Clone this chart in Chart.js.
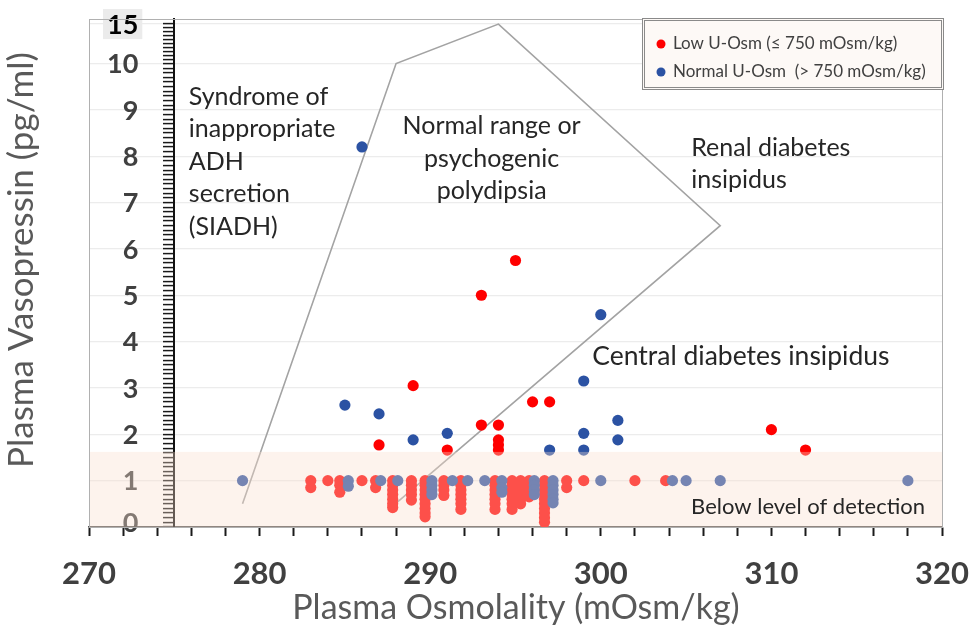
<!DOCTYPE html>
<html>
<head>
<meta charset="utf-8">
<script src="https://cdn.jsdelivr.net/npm/chart.js@4.4.1/dist/chart.umd.min.js"></script>
<style>
html, body { margin: 0; padding: 0; background: #fff; }
#wrap { position: relative; width: 976px; height: 628px; }
</style>
</head>
<body>
<div id="wrap"><canvas id="chart-scatter"></canvas></div>
<script>
'use strict';

// Data
var lowSingleX = [295, 293, 289, 296, 297, 293, 294, 294, 294, 294, 287, 291, 310, 312, 284, 286, 299, 302, 303.8];
var lowSingleY = [5.75, 5.0, 3.05, 2.7, 2.7, 2.2, 2.2, 1.88, 1.77, 1.66, 1.77, 1.66, 2.1, 1.66, 1, 1, 1, 1, 1];
var lowStackX = [283, 284.7, 286.8, 287.8, 288.9, 289.7, 290.8, 291.8, 293.8, 294.8, 295.3, 295.8, 296.7, 298];
var lowStackY = [
	[1, 0.85],
	[1, 0.9, 0.75],
	[1, 0.85],
	[1, 0.9, 0.8, 0.7, 0.6, 0.5, 0.42],
	[1, 0.9, 0.8, 0.7, 0.58],
	[1, 0.9, 0.8, 0.7, 0.6, 0.5, 0.4, 0.3, 0.22],
	[1, 0.9, 0.8, 0.68],
	[1, 0.9, 0.8, 0.7, 0.6, 0.5, 0.38],
	[1, 0.9, 0.8, 0.7, 0.6, 0.5, 0.38],
	[1, 0.9, 0.8, 0.7, 0.6, 0.5, 0.38],
	[1, 0.9, 0.8, 0.7, 0.6, 0.5],
	[1, 0.9, 0.8, 0.65],
	[1, 0.9, 0.8, 0.7, 0.6, 0.5, 0.4, 0.3, 0.2, 0.1],
	[1, 0.85]
];
var normalSingleX = [286, 300, 299, 285, 287, 301, 291, 299, 289, 301, 297, 299, 279, 287.1, 288.1, 291.3, 292.2, 293.2, 300, 304.2, 305, 307, 318];
var normalSingleY = [8.2, 4.58, 3.15, 2.63, 2.44, 2.3, 2.02, 2.02, 1.88, 1.88, 1.66, 1.66, 1, 1, 1, 1, 1, 1, 1, 1, 1, 1, 1];
var normalStackX = [285.2, 290.1, 294.2, 296.1, 297.2];
var normalStackY = [
	[1, 0.88],
	[1, 0.9, 0.8, 0.7],
	[1, 0.85, 0.75],
	[1, 0.9, 0.8, 0.7],
	[1, 0.9, 0.8, 0.7, 0.6, 0.52]
];
var boundaryX = [279, 288, 294, 307, 287.8];
var boundaryY = [0.5, 10, 15, 6.5, 0.45];
var xTickLabels = [270, 280, 290, 300, 310, 320];
var yTickValues = [0, 1, 2, 3, 4, 5, 6, 7, 8, 9, 10, 15];
var seriesLabels = ['Low U-Osm (\u2264 750 mOsm/kg)', 'Normal U-Osm  (> 750 mOsm/kg)'];
var detectionLimit = 1.62;

// broken y axis: everything above 10 is squeezed
var BREAK = 10, UPPER = 0.17;
function toAxis(v) {
	return v <= BREAK ? v : BREAK + (v - BREAK) * UPPER;
}

function buildPoints(singleX, singleY, stackX, stackY) {
	var pts = [];
	singleX.forEach(function (x, i) { pts.push({ x: x, y: toAxis(singleY[i]) }); });
	stackX.forEach(function (x, i) {
		stackY[i].forEach(function (y) { pts.push({ x: x, y: toAxis(y) }); });
	});
	return pts;
}

var FONT = 'Lato, "Open Sans", sans-serif';
var RED = '#ff0000';
var BLUE = '#2b52a3';

function isMajorY(v) {
	return yTickValues.some(function (t) { return Math.abs(toAxis(t) - v) < 1e-6; });
}

var notes = {
	id: 'notes',
	beforeDatasetsDraw: function (chart) {
		// y tick labels, left of the crossing axis
		var ctx = chart.ctx, sx = chart.scales.x, sy = chart.scales.y;
		var ax = sx.getPixelForValue(275) - 36;
		ctx.save();
		ctx.font = 'bold 27px ' + FONT;
		ctx.textAlign = 'right';
		ctx.textBaseline = 'middle';
		yTickValues.forEach(function (v) {
			var py = sy.getPixelForValue(toAxis(v));
			var t = String(v);
			if (v === 15) {
				var w = ctx.measureText(t).width;
				ctx.fillStyle = '#ebebeb';
				ctx.fillRect(ax - w - 4, py - 15, w + 8, 30);
				ctx.fillStyle = '#000000';
			} else {
				ctx.fillStyle = '#404040';
			}
			ctx.fillText(t, ax, v === 0 ? py - 4 : py + 1);
		});
		ctx.restore();
	},
	afterDatasetsDraw: function (chart) {
		var ctx = chart.ctx, a = chart.chartArea, y = chart.scales.y;
		var top = y.getPixelForValue(detectionLimit);
		var bottom = y.getPixelForValue(0);
		ctx.save();
		ctx.fillStyle = 'rgba(250, 222, 205, 0.36)';
		ctx.fillRect(a.left, top, a.right - a.left, bottom - top);
		ctx.restore();
	},
	afterDraw: function (chart) {
		var ctx = chart.ctx, a = chart.chartArea;
		var sx = chart.scales.x, sy = chart.scales.y;
		ctx.save();
		// frame
		ctx.strokeStyle = '#b0b0b0';
		ctx.lineWidth = 1;
		ctx.strokeRect(a.left + 0.5, a.top + 0.5, a.right - a.left, a.bottom - a.top);

		// x tick labels + title
		ctx.fillStyle = '#404040';
		ctx.font = 'bold 31px ' + FONT;
		ctx.textAlign = 'center';
		ctx.textBaseline = 'middle';
		xTickLabels.forEach(function (v) {
			ctx.fillText(String(v), sx.getPixelForValue(v), a.bottom + 47);
		});
		ctx.fillStyle = '#595959';
		ctx.font = '34px ' + FONT;
		ctx.fillText('Plasma Osmolality (mOsm/kg)', 516, a.bottom + 81);

		// y title
		ctx.save();
		ctx.translate(22, 260);
		ctx.rotate(-Math.PI / 2);
		ctx.fillStyle = '#595959';
		ctx.font = '35px ' + FONT;
		ctx.textAlign = 'center';
		ctx.textBaseline = 'middle';
		ctx.fillText('Plasma Vasopressin (pg/ml)', 0, 0);
		ctx.restore();

		// region notes
		ctx.fillStyle = '#262626';
		ctx.font = '25px ' + FONT;
		ctx.textBaseline = 'middle';
		function lines(arr, x, yv, align) {
			ctx.textAlign = align;
			var px = sx.getPixelForValue(x), py = sy.getPixelForValue(yv);
			arr.forEach(function (t, i) { ctx.fillText(t, px, py + i * 32.5); });
		}
		lines(['Syndrome of', 'inappropriate', 'ADH', 'secretion', '(SIADH)'], 275.85, 9.28, 'left');
		lines(['Normal range or', 'psychogenic', 'polydipsia'], 293.6, 8.65, 'center');
		lines(['Renal diabetes', 'insipidus'], 305.3, 8.18, 'left');
		ctx.font = '26.5px ' + FONT;
		lines(['Central diabetes insipidus'], 299.5, 3.69, 'left');
		ctx.font = '22px ' + FONT;
		lines(['Below level of detection'], 319.0, 0.43, 'right');

		// legend box
		var lx = 642, ly = 18, lw = 301, lh = 71;
		ctx.fillStyle = '#fdf9f6';
		ctx.fillRect(lx, ly, lw, lh);
		ctx.strokeStyle = '#8a8a8a';
		ctx.lineWidth = 1;
		ctx.strokeRect(lx + 0.5, ly + 0.5, lw, lh);
		ctx.strokeRect(lx + 2.5, ly + 2.5, lw - 4, lh - 4);
		var colors = [RED, BLUE];
		ctx.font = '17px ' + FONT;
		ctx.textAlign = 'left';
		seriesLabels.forEach(function (t, i) {
			var cy = ly + 26 + i * 28;
			ctx.fillStyle = colors[i];
			ctx.beginPath();
			ctx.arc(lx + 19, cy, 4.5, 0, Math.PI * 2);
			ctx.fill();
			ctx.fillStyle = '#404040';
			ctx.fillText(t, lx + 31, cy);
		});
		ctx.restore();
	}
};

var $chart = document.getElementById('chart-scatter');
var scatter = new Chart($chart, {
	type: 'scatter',
	data: {
		datasets: [{
			label: seriesLabels[1],
			data: buildPoints(normalSingleX, normalSingleY, normalStackX, normalStackY),
			backgroundColor: BLUE,
			borderWidth: 0,
			pointRadius: 5.6,
			order: 0
		}, {
			label: seriesLabels[0],
			data: buildPoints(lowSingleX, lowSingleY, lowStackX, lowStackY),
			backgroundColor: RED,
			borderWidth: 0,
			pointRadius: 5.6,
			order: 1
		}, {
			label: 'boundary',
			data: boundaryX.map(function (x, i) { return { x: x, y: toAxis(boundaryY[i]) }; }),
			showLine: true,
			borderColor: '#a3a3a3',
			borderWidth: 1.6,
			pointRadius: 0,
			order: 2
		}]
	},
	options: {
		responsive: true,
		maintainAspectRatio: false,
		animation: false,
		layout: { padding: { left: 89, right: 34, top: 19, bottom: 92 } },
		plugins: {
			legend: { display: false },
			tooltip: { enabled: false }
		},
		scales: {
			x: {
				type: 'linear',
				position: 'bottom',
				min: 270,
				max: 320,
				z: 1,
				afterBuildTicks: function (scale) {
					var t = [];
					for (var v = 270; v <= 320; v += 2) t.push({ value: v });
					scale.ticks = t;
				},
				ticks: { display: false, autoSkip: false },
				grid: { drawOnChartArea: false, tickLength: 9, tickColor: '#1a1a1a', tickWidth: 2 },
				border: { color: '#555555', width: 1.5 }
			},
			y: {
				type: 'linear',
				position: { x: 275 },
				min: 0,
				max: 10.96,
				afterBuildTicks: function (scale) {
					var t = [];
					for (var i = 0; i <= 100; i++) t.push({ value: i / 10 });
					for (var j = 21; j <= 30; j++) t.push({ value: toAxis(j / 2) });
					scale.ticks = t;
				},
				ticks: { display: false, autoSkip: false },
				grid: {
					color: function (c) { return c.tick && isMajorY(c.tick.value) ? '#ececec' : 'rgba(0,0,0,0)'; },
					lineWidth: 1.2,
					tickLength: 10,
					tickColor: '#1a1a1a',
					tickWidth: 1.5
				},
				border: { color: '#111111', width: 2 }
			}
		}
	},
	plugins: [notes]
});
</script>
</body>
</html>
